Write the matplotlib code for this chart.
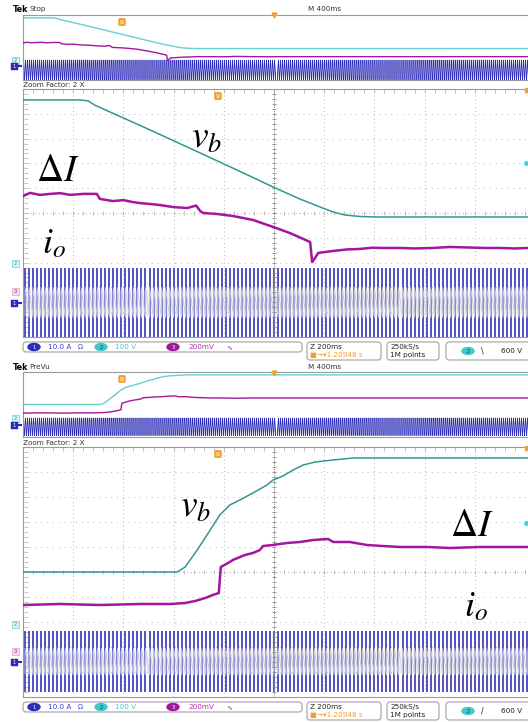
import numpy as np
import matplotlib
matplotlib.use('Agg')
import matplotlib.pyplot as plt
from matplotlib.patches import FancyBboxPatch, Ellipse

plt.rcParams['mathtext.fontset'] = 'stix'
plt.rcParams['font.family'] = ['DejaVu Sans']

W, H = 528, 722

# ---------------- data (x: main-window divisions, y: graticule divisions) ----------
# Panel 1 (Stop) : battery voltage falling
vb1_x = [0, 1.13, 1.30, 1.43, 2.53, 3.53, 4.52, 4.98, 5.52, 5.92, 6.18, 6.41, 6.71, 7.01, 20.2]
vb1_y = [9.56, 9.56, 9.52, 9.35, 8.35, 7.42, 6.49, 6.05, 5.56, 5.24, 5.04, 4.92, 4.86, 4.84, 4.84]

di1_x = [0.00, 0.14, 0.34, 0.54, 0.74, 0.94, 1.20, 1.47, 1.53, 1.79, 2.00, 2.19, 2.33, 2.55,
         2.73, 2.99, 3.27, 3.45, 3.53, 3.59, 3.87, 4.18, 4.58, 4.98, 5.32, 5.72, 5.76, 5.82,
         5.88, 6.18, 6.45, 6.71, 6.95, 7.17, 7.51, 7.80, 8.17, 8.50, 8.85, 9.20, 9.50, 9.80,
         10.06, 20.2]
di1_y = [5.68, 5.81, 5.73, 5.77, 5.80, 5.73, 5.77, 5.77, 5.57, 5.48, 5.52, 5.44, 5.40, 5.36,
         5.32, 5.24, 5.20, 5.30, 5.08, 5.00, 4.96, 4.88, 4.72, 4.44, 4.19, 3.83, 3.02, 3.19,
         3.39, 3.47, 3.53, 3.55, 3.60, 3.59, 3.59, 3.57, 3.59, 3.63, 3.61, 3.59, 3.59, 3.57,
         3.59, 3.59]

io1_lo, io1_hi = 0.0, 2.78          # envelope of the switching current (divisions)

# Panel 2 (PreVu) : battery voltage rising
vb2_x = [0, 3.07, 3.23, 3.47, 3.73, 3.92, 4.12, 4.32, 4.58, 4.86, 4.98, 5.18, 5.38, 5.58,
         5.82, 6.18, 6.57, 20.2]
vb2_y = [5.00, 5.00, 5.20, 5.88, 6.68, 7.28, 7.68, 7.88, 8.16, 8.48, 8.68, 8.84, 9.08, 9.28,
         9.40, 9.48, 9.56, 9.56]

di2_x = [0.00, 0.74, 1.53, 2.33, 2.93, 3.23, 3.43, 3.63, 3.78, 3.90, 3.94, 4.12, 4.18, 4.42,
         4.58, 4.72, 4.78, 4.98, 5.26, 5.52, 5.78, 6.08, 6.18, 6.51, 6.85, 7.17, 7.51, 8.05,
         8.51, 9.10, 9.68, 10.06, 20.2]
di2_y = [3.68, 3.72, 3.68, 3.72, 3.72, 3.76, 3.84, 3.96, 4.08, 4.16, 5.20, 5.40, 5.48, 5.68,
         5.76, 5.88, 6.04, 6.08, 6.16, 6.20, 6.28, 6.32, 6.20, 6.20, 6.08, 6.04, 6.00, 6.00,
         5.96, 6.00, 6.00, 6.00, 6.00]

io2_lo, io2_hi = 0.2, 2.64

io_cycles_per_div = 12.5            # stripes counted on the screen

# ---------------- styling ----------------
TEAL = '#2f9990'
CYAN = '#66d0d0'
MAG = '#a3169f'
BLUE = '#2b2bb8'
ORANGE = '#f0a030'
GRID = '#b8b8b8'
BORDER = '#9a9a9a'

fig = plt.figure(figsize=(W / 100, H / 100), dpi=100)
fig.patch.set_facecolor('white')


def px_axes(x0, y0, x1, y1):
    return fig.add_axes([x0 / W, 1 - y1 / H, (x1 - x0) / W, (y1 - y0) / H])


def draw_carrier_main(ax, lo, hi, x_end):
    xs = np.arange(0.5 / io_cycles_per_div, x_end, 1 / io_cycles_per_div)
    ax.vlines(xs, lo, hi, color=BLUE, lw=1.15, zorder=2)
    span = hi - lo
    mid = (lo + hi) / 2
    # light crossing pattern in the middle of the band
    zx = np.repeat(xs, 2)[1:]
    zy = np.tile([mid + 0.22 * span, mid - 0.22 * span], len(xs))[:len(zx)]
    ax.plot(zx, zy, color='#c4c4d8', lw=0.6, zorder=2.4)
    ax.axhspan(lo + 0.3 * span, lo + 0.68 * span, color='#dcdcea', alpha=0.35,
               lw=0, zorder=2.5)


def draw_carrier_overview(ax, lo, hi, x_end):
    n = int(x_end * io_cycles_per_div * 20)
    x = np.linspace(0, x_end, n)
    mid, amp = (lo + hi) / 2, (hi - lo) / 2
    ax.plot(x, mid + amp * np.sin(2 * np.pi * io_cycles_per_div * x), color=BLUE, lw=0.5,
            zorder=2)


def style_frame(ax):
    ax.set_xticks([])
    ax.set_yticks([])
    for s in ('left', 'top', 'bottom'):
        ax.spines[s].set_color(BORDER)
        ax.spines[s].set_linewidth(0.8)
    ax.spines['right'].set_visible(False)


def main_window(ax, vbx, vby, dix, diy, lo, hi):
    ax.set_xlim(0, 10.06)
    ax.set_ylim(0, 10)
    style_frame(ax)
    # graticule
    for k in range(1, 10):
        if k == 5:
            continue
        ax.axvline(k, color=GRID, lw=0.7, ls=(0, (1, 3)), zorder=1)
        ax.axhline(k, color=GRID, lw=0.7, ls=(0, (1, 5)), zorder=1)
    ax.axvline(5, color='#888888', lw=0.7, ls=(0, (1, 1)), zorder=3)
    ax.axhline(5, color='#aaaaaa', lw=0.7, ls=(0, (1, 3)), zorder=1)
    minor_y = np.arange(0.2, 10, 0.2)
    minor_x = np.arange(0.2, 10.06, 0.2)
    ax.plot(np.full_like(minor_y, 5), minor_y, ls='none', marker='_', ms=3, mew=0.6,
            color='#888888', zorder=3)
    ax.plot(minor_x, np.full_like(minor_x, 5), ls='none', marker='|', ms=2.5, mew=0.5,
            color='#aaaaaa', zorder=1)
    ax.plot(minor_x, np.full_like(minor_x, 9.93), ls='none', marker='|', ms=2.5, mew=0.5,
            color='#aaaaaa', zorder=1)
    ax.plot(np.full_like(minor_y, 0.05), minor_y, ls='none', marker='_', ms=2.5, mew=0.5,
            color='#aaaaaa', zorder=1)
    # traces
    draw_carrier_main(ax, lo, hi, 10.1)
    ax.plot(vbx, vby, color=TEAL, lw=1.1, zorder=4)
    ax.plot(dix, diy, color=MAG, lw=1.8, zorder=5)


def overview(ax, vbx, vby, dix, diy, lo, hi):
    ax.set_xlim(0, 20.12)
    ax.set_ylim(0, 10)
    style_frame(ax)
    draw_carrier_overview(ax, lo, hi, 20.2)
    ax.axvline(10.06, color='white', lw=0.8, zorder=3)
    ax.plot(vbx, vby, color=CYAN, lw=1.0, zorder=4)
    ax.plot(dix, diy, color=MAG, lw=1.0, zorder=5)


ov1 = px_axes(23, 15, 528, 80)
overview(ov1, vb1_x, vb1_y, di1_x, di1_y, io1_lo, io1_hi + 0.3)
mw1 = px_axes(23, 89, 528, 337)
main_window(mw1, vb1_x, vb1_y, di1_x, di1_y, io1_lo, io1_hi)

ov2 = px_axes(23, 372, 528, 437)
overview(ov2, vb2_x, vb2_y, di2_x, di2_y, io2_lo, io2_hi + 0.3)
mw2 = px_axes(23, 447, 528, 697)
main_window(mw2, vb2_x, vb2_y, di2_x, di2_y, io2_lo, io2_hi)

# ---------------- canvas for screen furniture ----------------
cv = fig.add_axes([0, 0, 1, 1])
cv.set_xlim(0, W)
cv.set_ylim(H, 0)
cv.axis('off')
cv.set_zorder(10)
cv.patch.set_alpha(0)

FS = 5.2


def header(y, state):
    cv.text(13, y, 'Tek', fontsize=FS + 0.6, fontweight='bold', va='center', ha='left')
    cv.text(29, y, state, fontsize=FS, va='center', ha='left', color='#333333')
    cv.text(308, y, 'M 400ms', fontsize=FS, va='center', ha='left', color='#333333')


def u_marker(x, y):
    cv.add_patch(FancyBboxPatch((x - 3.2, y - 3.5), 6.4, 7, boxstyle='round,pad=0.3,rounding_size=1.5',
                                fc=ORANGE, ec=ORANGE, lw=0.3))
    cv.text(x, y + 0.3, 'U', fontsize=3.6, color='#fff2d8', ha='center', va='center',
            fontweight='bold')


def ch_tag(x, y, label, fc, tc='white', ec=None):
    cv.add_patch(FancyBboxPatch((x - 3.5, y - 3.5), 7, 7, boxstyle='square,pad=0',
                                fc=fc, ec=ec if ec else fc, lw=0.5))
    cv.text(x, y + 0.2, label, fontsize=3.8, color=tc, ha='center', va='center')


def side_tags(y_teal, y_pink, y_blue):
    ch_tag(15, y_teal, '2', '#d8f4f4', tc=TEAL, ec=CYAN)
    if y_pink is not None:
        ch_tag(15, y_pink, '3', '#f4dcf0', tc=MAG, ec='#d8a0d0')
    cv.add_patch(FancyBboxPatch((11, y_blue - 3.5), 7, 7, boxstyle='square,pad=0',
                                fc=BLUE, ec=BLUE, lw=0.3))
    cv.plot([18, 21], [y_blue, y_blue], color=BLUE, lw=1.5)
    cv.text(14.5, y_blue + 0.2, '1', fontsize=3.8, color='white', ha='center', va='center')


def status(y0, edge):
    def box(x0, x1, h):
        cv.add_patch(FancyBboxPatch((x0, y0), x1 - x0, h,
                                    boxstyle='round,pad=0,rounding_size=3',
                                    fc='white', ec='#a0a0a0', lw=0.8))
    box(23, 302, 10)
    box(307, 381, 18)
    box(387, 439, 18)
    box(446, 540, 18)
    r1 = y0 + 5
    r2 = y0 + 13.5
    for xc, col, lab in ((34, BLUE, '1'), (101, '#40c8c8', '2'), (173, MAG, '3')):
        cv.add_patch(Ellipse((xc, r1), 12, 7, fc=col, ec=col))
        cv.text(xc, r1 + 0.3, lab, fontsize=3.8, color='white' if lab != '2' else '#003c3c',
                ha='center', va='center')
    cv.text(48, r1, '10.0 A', fontsize=FS, color='#3636d0', va='center', ha='left')
    cv.text(78, r1, 'Ω', fontsize=FS - 0.5, color='#3636d0', va='center', ha='left')
    cv.text(115, r1, '100 V', fontsize=FS, color='#50c8c8', va='center', ha='left')
    cv.text(188, r1, '200mV', fontsize=FS, color='#b030b0', va='center', ha='left')
    cv.text(226, r1, '∿', fontsize=FS, color='#b030b0', va='center', ha='left')
    cv.text(310, r1, 'Z 200ms', fontsize=FS, color='#222222', va='center', ha='left')
    cv.text(310, r2, '■→▾1.20948 s', fontsize=FS, color=ORANGE, va='center', ha='left')
    cv.text(390, r1, '250kS/s', fontsize=FS, color='#222222', va='center', ha='left')
    cv.text(390, r2, '1M points', fontsize=FS, color='#222222', va='center', ha='left')
    ye = y0 + 9
    cv.add_patch(Ellipse((468, ye), 12, 7, fc='#40c8c8', ec='#40c8c8'))
    cv.text(468, ye + 0.3, '2', fontsize=3.8, color='#003c3c', ha='center', va='center')
    cv.text(482, ye, edge, fontsize=FS + 0.5, color='#222222', va='center', ha='center')
    cv.text(501, ye, '600 V', fontsize=FS, color='#222222', va='center', ha='left')


# ---- panel 1 ----
header(9, 'Stop')
cv.plot([274], [14.5], marker='v', ms=3.5, color=ORANGE, ls='none')
u_marker(122, 22)
side_tags(60, None, 66)
cv.text(23, 85, 'Zoom Factor: 2 X', fontsize=FS, va='center', ha='left', color='#333333')
u_marker(218, 96)
cv.plot([527], [90], marker='s', ms=2.5, color=ORANGE, ls='none')
cv.plot([526], [163], marker='o', ms=2.5, color='#30d8e0', ls='none')
side_tags(263, 291, 303)
cv.text(58, 171, r'$\Delta I$', fontsize=27, ha='center', va='center')
cv.text(207, 138, r'$v_b$', fontsize=27, ha='center', va='center')
cv.text(54, 243, r'$i_o$', fontsize=26, ha='center', va='center')
status(342, '\\')

# ---- panel 2 ----
header(367, 'PreVu')
cv.plot([274], [372.5], marker='v', ms=3.5, color=ORANGE, ls='none')
u_marker(122, 379)
side_tags(418, None, 425)
cv.text(23, 443, 'Zoom Factor: 2 X', fontsize=FS, va='center', ha='left', color='#333333')
u_marker(218, 454)
cv.plot([527], [448], marker='s', ms=2.5, color=ORANGE, ls='none')
cv.plot([526], [523], marker='o', ms=2.5, color='#30d8e0', ls='none')
side_tags(624, 651, 662)
cv.text(472, 526, r'$\Delta I$', fontsize=27, ha='center', va='center')
cv.text(196, 507, r'$v_b$', fontsize=27, ha='center', va='center')
cv.text(476, 606, r'$i_o$', fontsize=26, ha='center', va='center')
status(702, '/')

fig.savefig('out.png', dpi=100, facecolor='white')
